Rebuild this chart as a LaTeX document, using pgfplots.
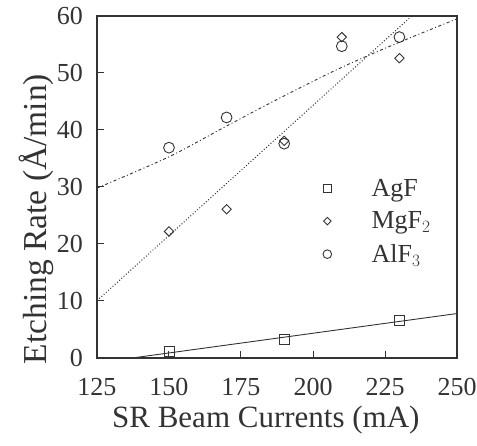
\documentclass[border=0pt]{standalone}
\usepackage{pgfplots}
\pgfplotsset{compat=1.18}
\usepackage{fontspec}
\setmainfont{Liberation Serif}
\begin{document}
\begin{tikzpicture}
\begin{axis}[
  scale only axis,
  width=360pt, height=342pt,
  xmin=125, xmax=250, ymin=0, ymax=60,
  xtick={125,150,175,200,225,250},
  ytick={0,10,20,30,40,50,60},
  tick pos=left,
  tick align=inside,
  major tick length=7pt,
  axis line style={line width=1.3pt, black!80},
  tick style={line width=1pt, black!80},
  /pgf/number format/assume math mode=true,
  tick label style={font=\fontsize{26}{28}\selectfont, text=black!80, inner sep=0pt},
  yticklabel shift=14pt,
  xticklabel shift=20pt,
  xlabel style={font=\fontsize{31}{34}\selectfont, text=black!80, inner sep=0pt,
    at={([yshift=-70pt]rel axis cs:0.469,0)}, anchor=base},
  ylabel style={font=\fontsize{33.5}{36}\selectfont, text=black!80, inner sep=0pt,
    at={([xshift=-50pt]rel axis cs:0,0.406)}, anchor=base},
  xlabel={SR Beam Currents (mA)},
  ylabel={Etching Rate (Å/min)},
  legend style={draw=none, fill=none, inner sep=0pt, at={(axis cs:203.4,31.4)}, anchor=north west,
    font=\fontsize{26}{28}\selectfont, text=black!80, row sep=14pt,
    nodes={inner sep=0pt},
    /tikz/every odd column/.append style={column sep=40pt}},
  legend cell align=left,
  legend image post style={scale=0.8},
]
% fitted lines
\addplot[black!80, line width=0.9pt, forget plot] coordinates {(137.2,0) (250,7.8)};
\addplot[black!80, line width=1pt, dotted, forget plot] coordinates {(125,10.06) (234.3,60)};
\addplot[black!80, line width=0.9pt, dash pattern=on 3pt off 2.5pt on 1pt off 2.5pt, smooth, tension=0.5, forget plot]
  coordinates {(125,29.8) (150,35.3) (170,40.7) (190,46.0) (210,51.0) (230,55.4) (250,59.5)};
% data
\addplot[only marks, mark=square, mark size=5pt, black!80, line width=0.9pt]
  coordinates {(150,1.2) (190,3.3) (230,6.5)};
\addlegendentry{AgF}
\addplot[only marks, mark=square, mark size=3.3pt, mark options={rotate=45}, black!80, line width=0.9pt]
  coordinates {(150,22.2) (170,26.1) (190,38.1) (210,56.3) (230,52.6)};
\addlegendentry{MgF$_2$}
\addplot[only marks, mark=o, mark size=5.4pt, black!80, line width=0.9pt]
  coordinates {(150,36.9) (170,42.2) (190,37.6) (210,54.7) (230,56.3)};
\addlegendentry{AlF$_3$}
\end{axis}
\pgfresetboundingbox
\path[use as bounding box] ([shift={(-97pt,-88pt)}]current axis.south west) rectangle ([shift={(20pt,16pt)}]current axis.north east);
\end{tikzpicture}
\end{document}
